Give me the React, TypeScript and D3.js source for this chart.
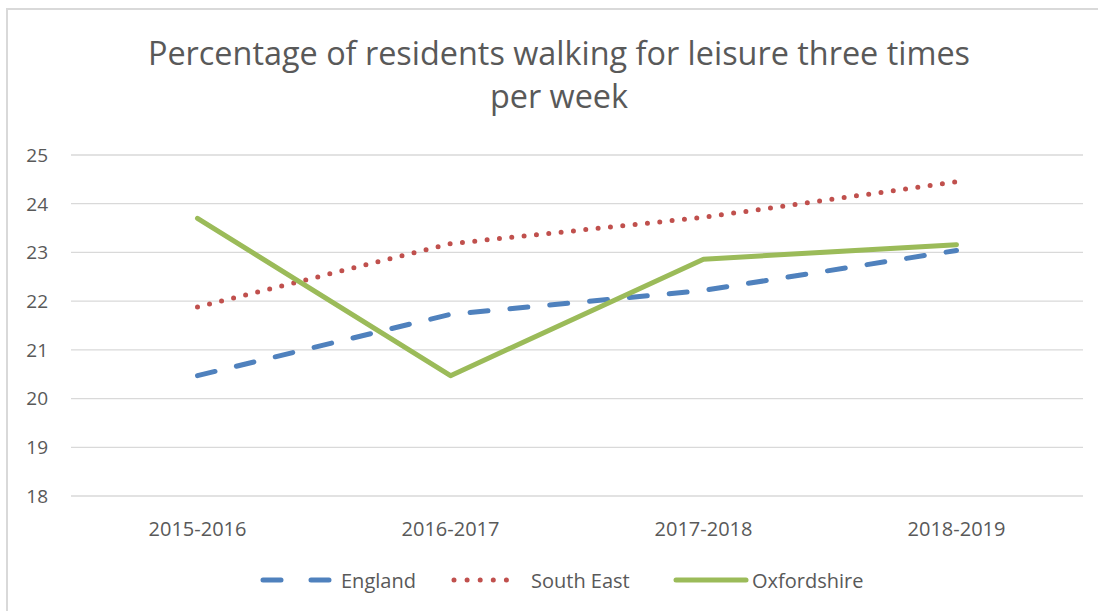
import React from "react";
import * as d3 from "d3";

const categories = ["2015-2016", "2016-2017", "2017-2018", "2018-2019"];
const england = [20.47, 21.73, 22.22, 23.04];
const southEast = [21.88, 23.18, 23.72, 24.45];
const oxfordshire = [23.7, 20.47, 22.86, 23.16];
const yTicks = [18, 19, 20, 21, 22, 23, 24, 25];
const titleLines = ["Percentage of residents walking for leisure three times", "per week"];

const seriesList = [
  { name: "England", values: england, color: "#4f81bd", dash: "18 22", width: 5 },
  { name: "South East", values: southEast, color: "#c0504d", dash: "0 12.4", width: 5 },
  { name: "Oxfordshire", values: oxfordshire, color: "#9bbb59", dash: "", width: 5 },
];

export default function App() {
  const W = 1098, H = 611;
  const left = 71, right = 1083, top = 155, bottom = 496;
  const x = d3.scaleBand<string>().domain(categories).range([left, right]);
  const y = d3.scaleLinear().domain([18, 25]).range([bottom, top]);
  const line = d3.line<number>()
    .x((_, i) => (x(categories[i]) as number) + x.bandwidth() / 2)
    .y((d) => y(d));
  const font = "'Open Sans', sans-serif";
  const textColor = "#595959";

  const legendItems = [
    { s: seriesList[0], x1: 263, x2: 329, tx: 341 },
    { s: seriesList[1], x1: 454, x2: 519, tx: 531 },
    { s: seriesList[2], x1: 676, x2: 746, tx: 752 },
  ];

  return (
    <svg width={W} height={H} style={{ position: "absolute", left: 0, top: 0, background: "#fff" }}>
      <rect x={7} y={9} width={W} height={H} fill="#fff" stroke="#d9d9d9" strokeWidth={2} />
      {titleLines.map((t, i) => (
        <text key={i} x={559} y={65 + i * 43} textAnchor="middle" fontFamily={font} fontSize={32.4} fill={textColor}>
          {t}
        </text>
      ))}
      {yTicks.map((t) => (
        <g key={t}>
          <line x1={left} x2={right} y1={y(t)} y2={y(t)} stroke="#d9d9d9" strokeWidth={1.3} />
          <text x={48} y={y(t)} dy="0.36em" textAnchor="end" fontFamily={font} fontSize={19} fill={textColor}>
            {t}
          </text>
        </g>
      ))}
      {categories.map((c) => (
        <text key={c} x={(x(c) as number) + x.bandwidth() / 2} y={536} textAnchor="middle" fontFamily={font} fontSize={20} fill={textColor}>
          {c}
        </text>
      ))}
      {seriesList.map((s) => (
        <path key={s.name} d={line(s.values) || ""} fill="none" stroke={s.color} strokeWidth={s.width}
          strokeDasharray={s.dash || undefined} strokeLinecap="round" strokeLinejoin="round" />
      ))}
      {legendItems.map(({ s, x1, x2, tx }) => (
        <g key={s.name}>
          <line x1={x1} x2={x2} y1={580} y2={580} stroke={s.color} strokeWidth={s.width}
            strokeDasharray={s.name === "England" ? "18 30" : s.name === "South East" ? "0 13.1" : undefined}
            strokeLinecap="round" />
          <text x={tx} y={588} fontFamily={font} fontSize={20} fill={textColor}>{s.name}</text>
        </g>
      ))}
    </svg>
  );
}
